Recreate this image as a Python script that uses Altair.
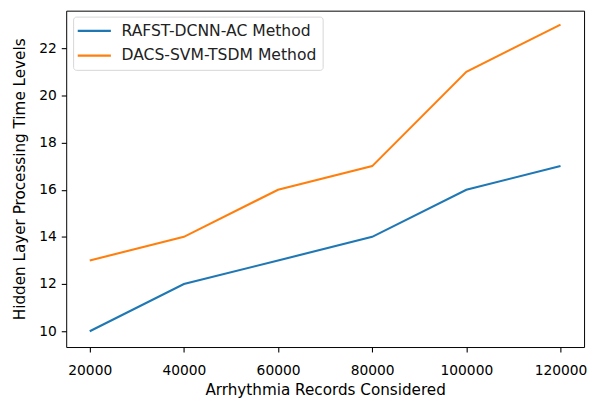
import altair as alt
import pandas as pd

records = [20000, 40000, 60000, 80000, 100000, 120000]
rafst = [10, 12, 13, 14, 16, 17]
dacs = [13, 14, 16, 17, 21, 23]
series_names = ["RAFST-DCNN-AC Method", "DACS-SVM-TSDM Method"]
colors = ["#1f77b4", "#ff7f0e"]

rows = []
for name, vals in zip(series_names, [rafst, dacs]):
    for x, v in zip(records, vals):
        rows.append({"records": x, "value": v, "series": name})
df = pd.DataFrame(rows)

font = "DejaVu Sans"

chart = alt.Chart(df).mark_line(strokeWidth=2.1).encode(
    x=alt.X("records:Q",
            scale=alt.Scale(domain=[15000, 125000], nice=False, zero=False),
            axis=alt.Axis(values=records, format="d", title="Arrhythmia Records Considered",
                          grid=False, domain=False, tickSize=5, tickColor="black",
                          tickWidth=1.1, labelPadding=12, labelColor="black",
                          labelFontSize=14, labelFont=font, titleFont=font,
                          titleFontSize=15.4, titleFontWeight="normal", titleColor="black",
                          titlePadding=5)),
    y=alt.Y("value:Q",
            scale=alt.Scale(domain=[9.33, 23.59], nice=False, zero=False),
            axis=alt.Axis(values=[10, 12, 14, 16, 18, 20, 22], title="Hidden Layer Processing Time Levels",
                          grid=False, domain=False, tickSize=5, tickColor="black",
                          tickWidth=1.1, labelPadding=5, labelColor="black",
                          labelFontSize=14, labelFont=font, titleFont=font,
                          titleFontSize=15.4, titleFontWeight="normal", titleColor="black",
                          titlePadding=11)),
    color=alt.Color("series:N",
                    scale=alt.Scale(domain=series_names, range=colors),
                    legend=alt.Legend(title=None, orient="none", legendX=7, legendY=6,
                                      symbolType="M-2.4,0H2.4", symbolSize=196,
                                      symbolStrokeWidth=2.2, symbolFillColor="transparent",
                                      symbolOffset=7, labelFont=font,
                                      labelFontSize=15.8, labelColor="#222", labelLimit=400,
                                      labelOffset=19, rowPadding=8, padding=6,
                                      strokeColor="#d6d6d6", fillColor="white",
                                      cornerRadius=3)),
).properties(
    width=525, height=341,
    padding={"left": 59, "top": 0, "right": 4, "bottom": 52},
    autosize=alt.AutoSizeParams(type="none"),
).configure_view(
    stroke="black", strokeWidth=1
)

chart.save("out.html", embed_options={"renderer": "svg", "actions": False})
